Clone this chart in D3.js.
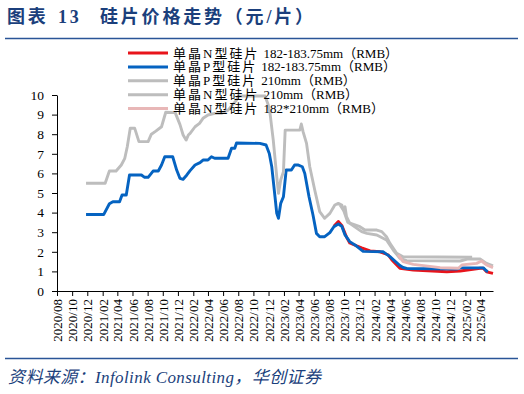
<!DOCTYPE html>
<html>
<head>
<meta charset="utf-8">
<script src="https://cdn.jsdelivr.net/npm/d3@7"></script>
<style>
  body{margin:0;background:#fff;}
  svg{display:block;}
  text{font-family:"Liberation Serif","Noto Sans CJK SC",serif;}
</style>
</head>
<body>
<svg id="chart" width="524" height="394"></svg>
<script>
// 硅片价格（元/片），各序列 [日期, 价格]
var nType182=[
    ["2023-08-21",3.30],["2023-09-08",3.55],["2023-09-22",3.35],["2023-10-11",2.75],
    ["2023-10-24",2.45],["2023-11-21",2.30],["2023-12-11",2.20],["2024-01-14",2.05],
    ["2024-02-23",2.00],["2024-03-26",1.85],["2024-04-10",1.60],["2024-05-13",1.16],
    ["2024-07-06",1.07],["2024-11-18",0.98],["2025-01-11",1.02],["2025-04-01",1.16],
    ["2025-04-14",1.16],["2025-04-27",0.98],["2025-05-23",0.90]
];
var pType182=[
    ["2020-11-26",3.90],["2021-02-05",3.90],["2021-02-28",4.45],["2021-03-14",4.55],
    ["2021-04-10",4.55],["2021-04-20",4.90],["2021-05-07",4.90],["2021-05-20",5.92],
    ["2021-07-07",5.92],["2021-07-20",5.80],["2021-08-03",5.80],["2021-08-23",6.12],
    ["2021-09-13",6.12],["2021-09-26",6.43],["2021-10-09",6.85],["2021-11-10",6.85],
    ["2021-11-26",6.17],["2021-12-09",5.75],["2021-12-22",5.70],["2022-01-06",5.92],
    ["2022-01-19",6.14],["2022-02-08",6.43],["2022-02-28",6.55],["2022-03-12",6.68],
    ["2022-04-01",6.68],["2022-04-15",6.85],["2022-04-28",6.77],["2022-06-21",6.77],
    ["2022-07-05",7.28],["2022-07-18",7.28],["2022-07-25",7.55],["2022-10-27",7.53],
    ["2022-11-21",7.45],["2022-12-04",7.02],["2022-12-14",6.34],["2022-12-27",4.81],
    ["2023-01-03",3.96],["2023-01-10",3.71],["2023-01-19",4.47],["2023-01-30",4.81],
    ["2023-02-10",6.17],["2023-03-03",6.17],["2023-03-16",6.43],["2023-03-29",6.43],
    ["2023-04-16",6.34],["2023-04-26",6.00],["2023-05-13",4.81],["2023-05-29",3.88],
    ["2023-06-12",2.94],["2023-06-25",2.77],["2023-07-15",2.77],["2023-08-05",2.98],
    ["2023-08-21",3.28],["2023-09-08",3.42],["2023-09-22",3.30],["2023-10-05",2.86],
    ["2023-10-24",2.52],["2023-11-14",2.35],["2023-12-17",2.02],["2024-03-07",2.00],
    ["2024-04-03",1.75],["2024-05-13",1.30],["2024-05-26",1.20],["2024-06-09",1.15],
    ["2024-12-28",1.12],["2025-01-11",1.18],["2025-04-14",1.18],["2025-04-27",1.02],
    ["2025-05-03",1.00]
];
var pType210=[
    ["2020-11-26",5.50],["2021-02-11",5.50],["2021-02-28",6.12],["2021-03-27",6.12],
    ["2021-04-17",6.43],["2021-05-01",6.77],["2021-05-11",7.36],["2021-05-23",8.30],
    ["2021-06-10",8.30],["2021-06-27",7.62],["2021-08-03",7.62],["2021-08-16",8.00],
    ["2021-09-03",8.16],["2021-09-26",8.38],["2021-10-13",9.12],["2021-11-20",9.10],
    ["2021-12-09",8.50],["2021-12-22",7.96],["2022-01-03",7.70],["2022-01-12",7.96],
    ["2022-01-19",8.04],["2022-02-08",8.38],["2022-02-26",8.55],["2022-03-12",8.81],
    ["2022-04-01",8.98],["2022-04-28",9.06],["2022-05-25",9.06],["2022-06-21",9.23],
    ["2022-07-25",9.74],["2022-08-01",9.95],["2022-11-17",9.95],["2022-11-30",9.49],
    ["2022-12-07",9.06],["2022-12-20",7.70],["2023-01-03",5.83],["2023-01-10",4.98],
    ["2023-01-19",5.66],["2023-01-30",6.09],["2023-02-06",8.21],["2023-04-06",8.21],
    ["2023-04-12",8.52],["2023-04-19",8.13],["2023-05-03",7.53],["2023-05-16",6.34],
    ["2023-06-05",5.15],["2023-06-25",4.05],["2023-07-15",3.71],["2023-08-05",3.96],
    ["2023-08-25",4.39],["2023-09-08",4.47],["2023-09-22",4.39],["2023-10-16",3.50],
    ["2023-11-14",3.37],["2023-12-04",3.28],["2023-12-24",3.11],["2024-02-10",3.11],
    ["2024-03-01",3.03],["2024-03-20",2.77],["2024-04-03",2.43],["2024-04-30",1.92],
    ["2024-05-26",1.75],["2025-02-28",1.72]
];
var nType210=[
    ["2023-09-15",4.39],["2023-09-28",4.13],["2023-10-05",4.30],["2023-10-11",3.79],
    ["2023-10-24",3.45],["2023-12-11",3.03],["2024-01-01",2.94],["2024-02-10",2.86],
    ["2024-03-20",2.60],["2024-04-16",2.09],["2024-05-13",1.67],["2024-06-09",1.55],
    ["2024-12-28",1.53],["2025-01-11",1.53],["2025-02-08",1.63],["2025-04-01",1.63],
    ["2025-04-27",1.41],["2025-05-23",1.28]
];
var nType182x210=[
    ["2024-05-06",1.84],["2024-05-26",1.50],["2024-07-06",1.36],["2024-10-22",1.19],
    ["2025-01-04",1.16],["2025-01-18",1.33],["2025-03-18",1.41],["2025-04-07",1.53],
    ["2025-04-27",1.33],["2025-05-23",1.19]
];

//图例名称：[中文部分, 规格部分]
var seriesNames=[
    ["单晶N型硅片","182-183.75mm（RMB）"],
    ["单晶P型硅片","182-183.75mm（RMB）"],
    ["单晶P型硅片","210mm（RMB）"],
    ["单晶N型硅片","210mm（RMB）"],
    ["单晶N型硅片","182*210mm（RMB）"]
];
var seriesData=[nType182,pType182,pType210,nType210,nType182x210];
var seriesColors=["#E8141B","#0563C1","#BDBDBD","#BDBDBD","#E8B7B7"];
var dateRange=["2020-08-01","2025-05-23"];
var yTicks=[0,1,2,3,4,5,6,7,8,9,10];

var titleNo="图表",titleNum="13",titleSub="硅片价格走势（元/片）";
var sourceText="资料来源：Infolink Consulting，华创证券";

var parse=d3.timeParse("%Y-%m-%d");
var svg=d3.select("#chart");
var darkBlue="#1B3F7C";

//标题
function titlePart(tx,str){
    svg.append("text").attr("x",tx).attr("y",23)
        .attr("font-size",18).attr("font-weight","bold").attr("fill",darkBlue)
        .attr("letter-spacing",2.8)
        .text(str);
}
titlePart(7,titleNo);
titlePart(58,titleNum);
titlePart(100,titleSub);
svg.append("line").attr("x1",5).attr("x2",518).attr("y1",38.5).attr("y2",38.5)
    .attr("stroke","#2A5597").attr("stroke-width",1.6);

var x=d3.scaleTime().domain(dateRange.map(parse)).range([57,493]);
var y=d3.scaleLinear().domain([0,10]).range([291,95]);

//坐标轴
var yAxis=svg.append("g").attr("transform","translate(57,0)")
    .call(d3.axisLeft(y).tickValues(yTicks).tickSize(5).tickSizeOuter(0).tickPadding(8));
yAxis.selectAll("text").attr("font-size",13.5).attr("fill","#000");

var xAxis=svg.append("g").attr("transform","translate(0,291)")
    .call(d3.axisBottom(x)
        .ticks(d3.timeMonth.filter(function(d){return d.getMonth()%2===1;}))
        .tickFormat(d3.timeFormat("%Y/%m"))
        .tickSize(5).tickSizeOuter(0));
xAxis.selectAll("text")
    .attr("font-size",13).attr("fill","#000")
    .attr("text-anchor","end")
    .attr("transform","rotate(-90)")
    .attr("x",-8).attr("y",0).attr("dy","0.35em");
svg.selectAll(".domain,.tick line").attr("stroke","#000").attr("stroke-width",1);

//折线
var line=d3.line()
    .x(function(d){return x(parse(d[0]));})
    .y(function(d){return y(d[1]);});

seriesData.forEach(function(data,i){
    svg.append("path").datum(data)
        .attr("d",line)
        .attr("fill","none")
        .attr("stroke",seriesColors[i])
        .attr("stroke-width",2.9)
        .attr("stroke-linejoin","round");
});

//图例
var legend=svg.append("g");
seriesNames.forEach(function(name,i){
    var ly=53+i*13.9;
    legend.append("line").attr("x1",128).attr("x2",168).attr("y1",ly).attr("y2",ly)
        .attr("stroke",seriesColors[i]).attr("stroke-width",3);
    var t=legend.append("text").attr("x",173).attr("y",ly).attr("dy","0.35em")
        .attr("font-size",13).attr("fill","#000");
    t.append("tspan").attr("letter-spacing",2).text(name[0]);
    t.append("tspan").attr("dx",4).text(name[1]);
});

//底部
svg.append("line").attr("x1",5).attr("x2",518).attr("y1",358.5).attr("y2",358.5)
    .attr("stroke","#2A5597").attr("stroke-width",1.6);
svg.append("text").attr("x",8).attr("y",383)
    .attr("font-size",17).attr("font-style","italic").attr("fill",darkBlue)
    .attr("letter-spacing",0.4)
    .text(sourceText);
</script>
</body>
</html>
